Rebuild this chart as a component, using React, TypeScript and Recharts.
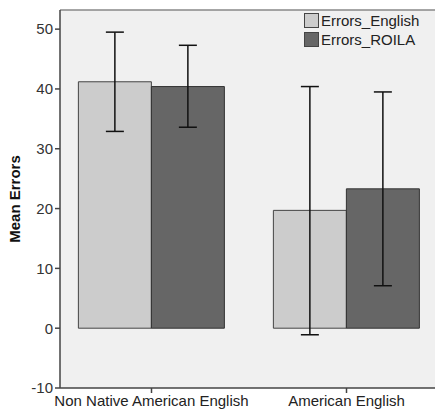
import React from "react";
import {
  BarChart,
  Bar,
  XAxis,
  YAxis,
  ErrorBar,
  CartesianGrid,
  ReferenceLine,
} from "recharts";

const groups = ["Non Native American English", "American English"];
const englishMeans = [41.2, 19.7];
const englishErr = [
  [8.3, 8.3],
  [20.8, 20.7],
];
const roilaMeans = [40.4, 23.3];
const roilaErr = [
  [6.8, 6.9],
  [16.2, 16.2],
];
const yTicks = [-10, 0, 10, 20, 30, 40, 50];
const seriesNames = ["Errors_English", "Errors_ROILA"];
const seriesColors = ["#cccccc", "#666666"];

const data = groups.map((g, i) => ({
  group: g,
  english: englishMeans[i],
  englishErr: englishErr[i],
  roila: roilaMeans[i],
  roilaErr: roilaErr[i],
}));

const font = "'Liberation Sans', Arial, sans-serif";

const LegendBox = () => (
  <div
    style={{
      position: "absolute",
      left: 304,
      top: 11,
      fontFamily: font,
      fontSize: 15,
      color: "#222",
      lineHeight: "19px",
    }}
  >
    {seriesNames.map((name, i) => (
      <div key={name} style={{ display: "flex", alignItems: "center" }}>
        <span
          style={{
            display: "inline-block",
            width: 15,
            height: 15,
            background: seriesColors[i],
            border: "1px solid #444",
            marginRight: 2,
            boxSizing: "border-box",
          }}
        />
        {name}
      </div>
    ))}
  </div>
);

export default function App() {
  return (
    <div
      style={{
        position: "absolute",
        left: 0,
        top: 0,
        width: 435,
        height: 414,
        background: "#fff",
        overflow: "hidden",
      }}
    >
      <BarChart
        width={435}
        height={414}
        data={data}
        margin={{ top: 10, right: 0, bottom: 0, left: 0 }}
        barCategoryGap="12.5%"
        barGap={0}
      >
        <CartesianGrid fill="#f0f0f0" horizontal={false} vertical={false} stroke="none" />
        <ReferenceLine y={53.2} stroke="#888" strokeWidth={1.5} />
        <XAxis
          dataKey="group"
          height={26}
          padding={{ left: -6, right: -9 }}
          stroke="#444"
          strokeWidth={1.5}
          tickSize={5}
          tick={{ fill: "#222", fontSize: 15, fontFamily: font }}
          tickLine={{ stroke: "#444" }}
          interval={0}
        />
        <YAxis
          width={60}
          domain={[-10, 53.2]}
          ticks={yTicks}
          allowDataOverflow
          stroke="#444"
          strokeWidth={1.5}
          tickSize={5}
          tick={{ fill: "#333", fontSize: 15, fontFamily: font }}
          label={{
            value: "Mean Errors",
            angle: -90,
            position: "insideLeft",
            dx: 10,
            dy: 0,
            style: { fontWeight: "bold", fontSize: 15, fontFamily: font, fill: "#111", textAnchor: "middle" },
          }}
        />
        <Bar dataKey="english" name={seriesNames[0]} fill={seriesColors[0]} stroke="#444" strokeWidth={1} isAnimationActive={false}>
          <ErrorBar dataKey="englishErr" width={9} stroke="#111" strokeWidth={1.5} direction="y" />
        </Bar>
        <Bar dataKey="roila" name={seriesNames[1]} fill={seriesColors[1]} stroke="#333" strokeWidth={1} isAnimationActive={false}>
          <ErrorBar dataKey="roilaErr" width={9} stroke="#111" strokeWidth={1.5} direction="y" />
        </Bar>
      </BarChart>
      <LegendBox />
    </div>
  );
}
